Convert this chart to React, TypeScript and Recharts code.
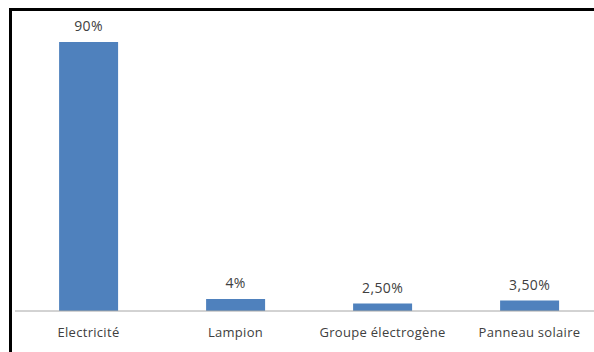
import { Bar, BarChart, LabelList, XAxis, YAxis } from "recharts";

const categories = ["Electricité", "Lampion", "Groupe électrogène", "Panneau solaire"];
const shares = [90, 4, 2.5, 3.5];

const data = categories.map((name, i) => ({ name, share: shares[i] }));

// French-style percent: whole numbers stay bare, others get two decimals with a comma
const formatPct = (v: number) =>
  Number.isInteger(v) ? `${v}%` : `${v.toFixed(2).replace(".", ",")}%`;

const FONT = "'Open Sans', 'Noto Sans', sans-serif";

export default function App() {
  return (
    <div
      style={{
        position: "absolute",
        left: 0,
        top: 0,
        width: 594,
        height: 352,
        background: "#fff",
        overflow: "hidden",
      }}
    >
      <div
        style={{
          position: "absolute",
          left: 9,
          top: 8,
          width: 620,
          height: 380,
          border: "3px solid #000",
        }}
      />
      <div style={{ position: "absolute", left: 0, top: 0 }}>
        <BarChart
          width={620}
          height={352}
          data={data}
          margin={{ top: 12, right: 17, left: 15, bottom: 11 }}
          barCategoryGap="30%"
        >
          <XAxis
            dataKey="name"
            height={30}
            axisLine={{ stroke: "#a6a6a6" }}
            tickLine={false}
            tick={{ fontSize: 13, fill: "#404040", fontFamily: FONT, letterSpacing: 0.3 }}
            tickMargin={11}
          />
          <YAxis hide domain={[0, 100]} />
          <Bar dataKey="share" fill="#4F81BD" isAnimationActive={false}>
            <LabelList
              dataKey="share"
              position="top"
              offset={11}
              formatter={(v: any) => formatPct(Number(v))}
              style={{ fontSize: 14, fill: "#404040", fontFamily: FONT, letterSpacing: 0.4 }}
            />
          </Bar>
        </BarChart>
      </div>
    </div>
  );
}
